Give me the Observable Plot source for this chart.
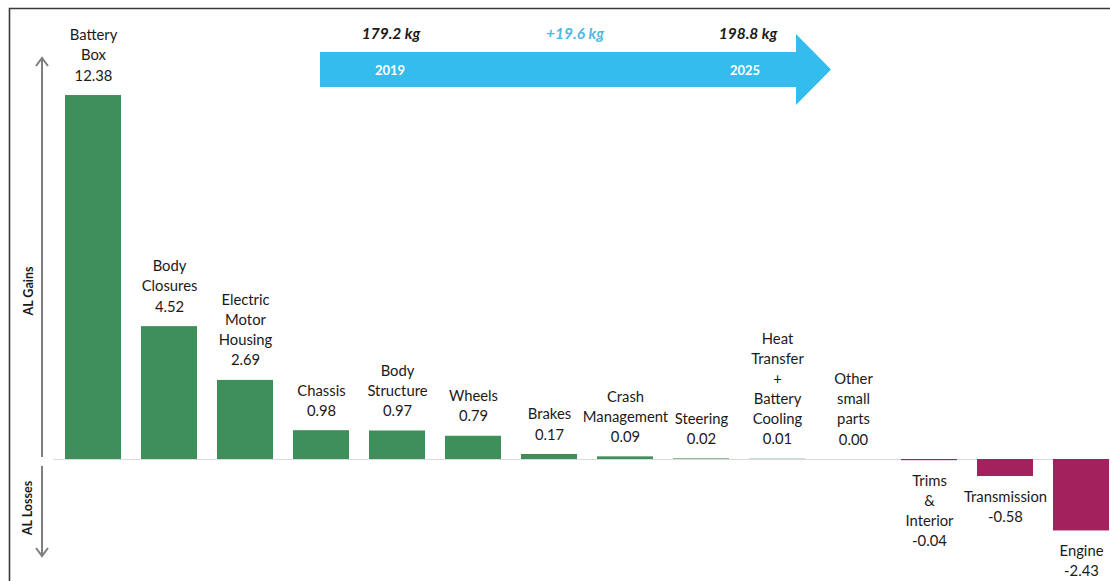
<!DOCTYPE html>
<html>
<head>
<meta charset="utf-8">
<script src="https://cdn.jsdelivr.net/npm/d3@7"></script>
<script src="https://cdn.jsdelivr.net/npm/@observablehq/plot@0.6"></script>
<style>
  html, body { margin: 0; padding: 0; background: #fff; }
  #chart { width: 1110px; height: 581px; overflow: hidden; }
  svg { display: block; }
</style>
</head>
<body>
<div id="chart"></div>
<script>
// ---- data ----
const categories = ["Battery\nBox", "Body\nClosures", "Electric\nMotor\nHousing", "Chassis", "Body\nStructure", "Wheels", "Brakes", "Crash\nManagement", "Steering", "Heat\nTransfer\n+\nBattery\nCooling", "Other\nsmall\nparts", "Trims\n&\nInterior", "Transmission", "Engine"];
const values = [12.38, 4.52, 2.69, 0.98, 0.97, 0.79, 0.17, 0.09, 0.02, 0.01, 0.00, -0.04, -0.58, -2.43];
const years = ["2019", "2025"];
const totals = ["179.2 kg", "198.8 kg"];
const delta = "+19.6 kg";
const axisLabels = ["AL Gains", "AL Losses"];

const rows = categories.map((c, i) => ({cat: c, v: values[i], label: c + "\n" + values[i].toFixed(2)}));
const pos = rows.filter(d => d.v >= 0);
const neg = rows.filter(d => d.v < 0);

const GREEN = "#3f8f5b", RED = "#a3225d", BLUE = "#33bcec";
const FONT = "Lato, 'Open Sans', sans-serif";

const plot = Plot.plot({
  width: 1110,
  height: 581,
  marginLeft: 65,
  marginRight: 1,
  marginTop: 47.4,
  marginBottom: 4.4,
  style: {fontFamily: FONT, background: "transparent"},
  x: {domain: categories, range: [65, 1109], paddingInner: 0.263, paddingOuter: 0, round: false, axis: null},
  y: {domain: [-4, 14], axis: null},
  marks: [
    Plot.barY(rows, {x: "cat", y: "v", fill: d => d.v >= 0 ? GREEN : RED}),
    Plot.text(pos, {x: "cat", y: "v", text: "label", lineAnchor: "bottom", dy: -15, lineHeight: 1.36, fontSize: 14.8, fill: "#1a1a1a"}),
    Plot.text(neg, {x: "cat", y: "v", text: "label", lineAnchor: "top", dy: 11, lineHeight: 1.36, fontSize: 14.8, fill: "#1a1a1a"})
  ]
});

const svg = d3.select(plot);
const y = plot.scale("y");
const y0 = y.apply(0);

// zero line
svg.insert("line", ":first-child")
  .attr("x1", 53).attr("x2", 1110).attr("y1", y0 + 0.5).attr("y2", y0 + 0.5)
  .attr("stroke", "#d9d9d9").attr("stroke-width", 1.2);

// frame
svg.append("path").attr("d", "M9.5,581 V8.5 H1110").attr("fill", "none").attr("stroke", "#3a3a3a").attr("stroke-width", 1.6);

// left double arrow
const g = svg.append("g").attr("stroke", "#7f7f7f").attr("stroke-width", 2).attr("fill", "none");
g.append("line").attr("x1", 42).attr("x2", 42).attr("y1", y0 - 2).attr("y2", 58);
g.append("path").attr("d", "M36,66 L42,58 L48,66");
g.append("line").attr("x1", 42).attr("x2", 42).attr("y1", y0 + 7).attr("y2", 556);
g.append("path").attr("d", "M36,548 L42,556 L48,548");

svg.append("text").text(axisLabels[0]).attr("transform", "translate(33,291) rotate(-90)")
  .attr("text-anchor", "middle").attr("font-family", FONT).attr("font-weight", "bold").attr("font-size", 12.5).attr("fill", "#1a1a1a");
svg.append("text").text(axisLabels[1]).attr("transform", "translate(32,508) rotate(-90)")
  .attr("text-anchor", "middle").attr("font-family", FONT).attr("font-weight", "bold").attr("font-size", 12.5).attr("fill", "#1a1a1a");

// top arrow
svg.append("path")
  .attr("d", "M320,52 H796 V34 L831,69.5 L796,105 V87 H320 Z")
  .attr("fill", BLUE);
[[390, years[0]], [745, years[1]]].forEach(([x, t]) => {
  svg.append("text").text(t).attr("x", x).attr("y", 74.5).attr("text-anchor", "middle")
    .attr("font-family", FONT).attr("font-weight", "bold").attr("font-size", 13).attr("fill", "#fff");
});
[[391, totals[0], "#1a1a1a"], [575, delta, "#4fb8e6"], [748, totals[1], "#1a1a1a"]].forEach(([x, t, c]) => {
  svg.append("text").text(t).attr("x", x).attr("y", 39).attr("text-anchor", "middle")
    .attr("font-family", FONT).attr("font-weight", "bold").attr("font-style", "italic").attr("font-size", 15.5).attr("fill", c);
});

document.getElementById("chart").appendChild(plot);
</script>
</body>
</html>
